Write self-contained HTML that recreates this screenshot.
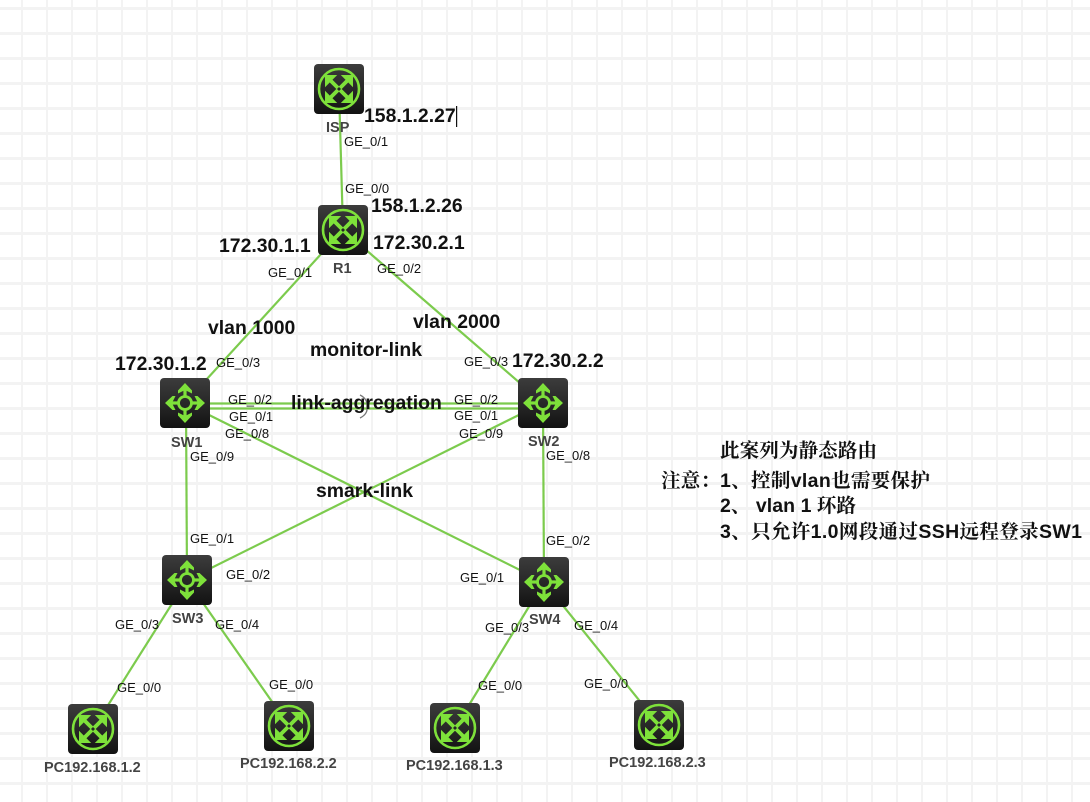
<!DOCTYPE html>
<html><head><meta charset="utf-8"><style>
html,body{margin:0;padding:0;background:#fff}
body{width:1090px;height:802px;overflow:hidden;background-color:#fff;background-image:linear-gradient(#f3f3f3 3px,transparent 3px),linear-gradient(90deg,#f3f3f3 2px,transparent 2px);background-size:25px 25px;background-position:0 7px,21px 0}
svg{display:block;font-family:"Liberation Sans",sans-serif}
text{white-space:pre}
.p{font-size:13px;fill:#111}
.n{font-size:14.5px;font-weight:bold;fill:#444}
.b{font-size:19.4px;font-weight:bold;fill:#111}
.c{font-size:19.5px;font-weight:bold;fill:#111;font-family:"Liberation Sans","Noto Serif CJK SC",serif}
.l{stroke:#7ccb4d;stroke-width:2.2;fill:none}
</style></head><body>
<svg width="1090" height="802" viewBox="0 0 1090 802" xmlns="http://www.w3.org/2000/svg">
<defs>
<linearGradient id="d" x1="0" y1="0" x2="0" y2="1"><stop offset="0" stop-color="#3c3c3c"/><stop offset=".55" stop-color="#262626"/><stop offset="1" stop-color="#121212"/></linearGradient>
<g id="r">
<rect width="50" height="50" rx="4" fill="url(#d)"/>
<circle cx="25" cy="25" r="20" fill="none" stroke="#7ee13a" stroke-width="2.6"/>
<path d="M11.5 11.5H22L11.5 22Z M38.5 11.5H28L38.5 22Z M11.5 38.5H22L11.5 28Z M38.5 38.5H28L38.5 28Z" fill="#7ee13a" stroke="#7ee13a" stroke-width="1"/>
<path d="M15 15L35 35M35 15L15 35" fill="none" stroke="#7ee13a" stroke-width="3.8"/>
<path d="M25 23L27 25L25 27L23 25Z" fill="#262626"/>
</g>
<g id="s">
<rect width="50" height="50" rx="4" fill="url(#d)"/>
<circle cx="25" cy="25" r="6.5" fill="none" stroke="#7ee13a" stroke-width="2.8"/>
<path d="M25 18V10M25 32V40M18 25H10M32 25H40" stroke="#7ee13a" stroke-width="3.2" fill="none"/>
<path fill="#7ee13a" d="M25 5L32 12.5V15.5L25 12L18 15.5V12.5Z M25 45L32 37.5V34.5L25 38L18 34.5V37.5Z M5 25L12.5 18H15.5L12 25L15.5 32H12.5Z M45 25L37.5 18H34.5L38 25L34.5 32H37.5Z"/>
</g>
</defs>

<g class="l">
<path d="M339 89L343 230"/>
<path d="M343 230L185 403"/>
<path d="M343 230L543 403"/>
<path d="M185 403.5H543"/>
<path d="M185 408.5H543"/>
<path d="M186 403L187 580"/>
<path d="M185 403L544 582"/>
<path d="M543 403L187 580"/>
<path d="M543 403L544 582"/>
<path d="M187 580L93 729"/>
<path d="M187 580L289 726"/>
<path d="M544 582L455 728"/>
<path d="M544 582L659 725"/>
</g>
<path d="M360 395Q368 399 367 407Q368 414 360 418" fill="none" stroke="#777" stroke-width="1.3"/>

<use href="#r" x="314" y="64"/>
<use href="#r" x="318" y="205"/>
<use href="#s" x="160" y="378"/>
<use href="#s" x="518" y="378"/>
<use href="#s" x="162" y="555"/>
<use href="#s" x="519" y="557"/>
<use href="#r" x="68" y="704"/>
<use href="#r" x="264" y="701"/>
<use href="#r" x="430" y="703"/>
<use href="#r" x="634" y="700"/>

<g class="n">
<text x="326" y="132">ISP</text>
<text x="333" y="273">R1</text>
<text x="171" y="447">SW1</text>
<text x="528" y="446">SW2</text>
<text x="172" y="623">SW3</text>
<text x="529" y="624">SW4</text>
<text x="44" y="772">PC192.168.1.2</text>
<text x="240" y="768">PC192.168.2.2</text>
<text x="406" y="770">PC192.168.1.3</text>
<text x="609" y="767">PC192.168.2.3</text>
</g>

<g class="p">
<text x="344" y="146">GE_0/1</text>
<text x="345" y="193">GE_0/0</text>
<text x="268" y="277">GE_0/1</text>
<text x="377" y="273">GE_0/2</text>
<text x="216" y="367">GE_0/3</text>
<text x="464" y="366">GE_0/3</text>
<text x="228" y="404">GE_0/2</text>
<text x="229" y="421">GE_0/1</text>
<text x="225" y="438">GE_0/8</text>
<text x="190" y="461">GE_0/9</text>
<text x="454" y="404">GE_0/2</text>
<text x="454" y="420">GE_0/1</text>
<text x="459" y="438">GE_0/9</text>
<text x="546" y="460">GE_0/8</text>
<text x="190" y="543">GE_0/1</text>
<text x="226" y="579">GE_0/2</text>
<text x="546" y="545">GE_0/2</text>
<text x="460" y="582">GE_0/1</text>
<text x="115" y="629">GE_0/3</text>
<text x="215" y="629">GE_0/4</text>
<text x="485" y="632">GE_0/3</text>
<text x="574" y="630">GE_0/4</text>
<text x="117" y="692">GE_0/0</text>
<text x="269" y="689">GE_0/0</text>
<text x="478" y="690">GE_0/0</text>
<text x="584" y="688">GE_0/0</text>
</g>

<g class="b">
<text x="364" y="122">158.1.2.27</text>
<text x="371" y="212">158.1.2.26</text>
<text x="219" y="252">172.30.1.1</text>
<text x="373" y="249">172.30.2.1</text>
<text x="208" y="334">vlan 1000</text>
<text x="413" y="328">vlan 2000</text>
<text x="310" y="356">monitor-link</text>
<text x="115" y="370">172.30.1.2</text>
<text x="512" y="367">172.30.2.2</text>
<text x="291" y="409">link-aggregation</text>
<text x="316" y="497">smark-link</text>
</g>
<rect x="456" y="106" width="1.2" height="21" fill="#111"/>

<g class="c">
<text x="720" y="457" textLength="157" lengthAdjust="spacing">此案列为静态路由</text>
<text x="661" y="487" textLength="59" lengthAdjust="spacing">注意：</text>
<text x="720" y="487" textLength="210" lengthAdjust="spacing">1、控制vlan也需要保护</text>
<text x="720" y="512" textLength="136" lengthAdjust="spacing">2、 vlan 1 环路</text>
<text x="720" y="538" textLength="362" lengthAdjust="spacing">3、只允许1.0网段通过SSH远程登录SW1</text>
</g>
</svg>
</body></html>
